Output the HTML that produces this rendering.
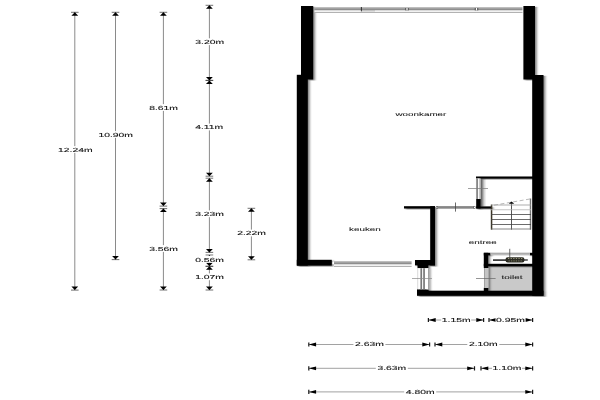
<!DOCTYPE html>
<html><head><meta charset="utf-8"><title>Plattegrond</title>
<style>
html,body{margin:0;padding:0;background:#fff;}
body{width:600px;height:400px;overflow:hidden;font-family:"Liberation Sans",sans-serif;}
svg{display:block;}
text{font-family:"Liberation Sans",sans-serif;text-rendering:geometricPrecision;}
</style></head><body>
<svg width="600" height="400" viewBox="0 0 600 400">
<rect width="600" height="400" fill="#fff"/>
<defs><linearGradient id="dg" x1="0" x2="1" y1="0" y2="0"><stop offset="0" stop-color="#000" stop-opacity="0.38"/><stop offset="1" stop-color="#000" stop-opacity="0"/></linearGradient><filter id="bl" x="0" y="0" width="600" height="400" filterUnits="userSpaceOnUse"><feGaussianBlur stdDeviation="0.6 0.12"/></filter><filter id="tb" x="0" y="0" width="600" height="400" filterUnits="userSpaceOnUse"><feGaussianBlur stdDeviation="0.3 0.08"/></filter><filter id="sh" x="280" y="0" width="290" height="310" filterUnits="userSpaceOnUse"><feDropShadow dx="1.8" dy="0.8" stdDeviation="1.1 0.6" flood-color="#000" flood-opacity="0.5"/></filter></defs>
<g filter="url(#bl)">
<g id="dims">
<line x1="74.8" y1="12.3" x2="74.8" y2="290.1" stroke="#8a8a8a" stroke-width="1"/>
<path d="M71.0,12.3H78.6M71.0,290.1H78.6" stroke="#333" stroke-width="0.7"/>
<path d="M74.8,12.3l3.4,3.5h-6.8z M74.8,290.1l3.4,-3.5h-6.8z" fill="#000"/>
<rect x="59.30" y="146.10" width="32" height="6.8" fill="#fff"/>
<line x1="115.5" y1="12.3" x2="115.5" y2="259.6" stroke="#8a8a8a" stroke-width="1"/>
<path d="M111.7,12.3H119.3M111.7,259.6H119.3" stroke="#333" stroke-width="0.7"/>
<path d="M115.5,12.3l3.4,3.5h-6.8z M115.5,259.6l3.4,-3.5h-6.8z" fill="#000"/>
<rect x="99.70" y="131.10" width="32" height="6.8" fill="#fff"/>
<line x1="163.4" y1="12.3" x2="163.4" y2="206.1" stroke="#8a8a8a" stroke-width="1"/>
<path d="M159.6,12.3H167.20000000000002M159.6,206.1H167.20000000000002" stroke="#333" stroke-width="0.7"/>
<path d="M163.4,12.3l3.4,3.5h-6.8z M163.4,206.1l3.4,-3.5h-6.8z" fill="#000"/>
<rect x="147.60" y="104.10" width="32" height="6.8" fill="#fff"/>
<line x1="163.4" y1="208.6" x2="163.4" y2="290.0" stroke="#8a8a8a" stroke-width="1"/>
<path d="M159.6,208.6H167.20000000000002M159.6,290.0H167.20000000000002" stroke="#333" stroke-width="0.7"/>
<path d="M163.4,208.6l3.4,3.5h-6.8z M163.4,290.0l3.4,-3.5h-6.8z" fill="#000"/>
<rect x="147.60" y="245.10" width="32" height="6.8" fill="#fff"/>
<line x1="209.4" y1="5.3" x2="209.4" y2="80.4" stroke="#8a8a8a" stroke-width="1"/>
<path d="M205.6,5.3H213.20000000000002M205.6,80.4H213.20000000000002" stroke="#333" stroke-width="0.7"/>
<path d="M209.4,5.3l3.4,3.5h-6.8z M209.4,80.4l3.4,-3.5h-6.8z" fill="#000"/>
<rect x="193.70" y="38.30" width="32" height="6.8" fill="#fff"/>
<line x1="209.4" y1="80.4" x2="209.4" y2="176.2" stroke="#8a8a8a" stroke-width="1"/>
<path d="M205.6,80.4H213.20000000000002M205.6,176.2H213.20000000000002" stroke="#333" stroke-width="0.7"/>
<path d="M209.4,80.4l3.4,3.5h-6.8z M209.4,176.2l3.4,-3.5h-6.8z" fill="#000"/>
<rect x="193.20" y="123.60" width="32" height="6.8" fill="#fff"/>
<line x1="209.4" y1="178.2" x2="209.4" y2="252.4" stroke="#8a8a8a" stroke-width="1"/>
<path d="M205.6,178.2H213.20000000000002M205.6,252.4H213.20000000000002" stroke="#333" stroke-width="0.7"/>
<path d="M209.4,178.2l3.4,3.5h-6.8z M209.4,252.4l3.4,-3.5h-6.8z" fill="#000"/>
<rect x="193.60" y="210.40" width="32" height="6.8" fill="#fff"/>
<line x1="209.4" y1="255.0" x2="209.4" y2="266.3" stroke="#8a8a8a" stroke-width="1"/>
<path d="M205.6,255.0H213.20000000000002M205.6,266.3H213.20000000000002" stroke="#333" stroke-width="0.7"/>
<path d="M209.4,255.0l3.4,3.5h-6.8z M209.4,266.3l3.4,-3.5h-6.8z" fill="#000"/>
<rect x="193.60" y="255.90" width="32" height="6.8" fill="#fff"/>
<line x1="209.4" y1="266.3" x2="209.4" y2="290.0" stroke="#8a8a8a" stroke-width="1"/>
<path d="M205.6,266.3H213.20000000000002M205.6,290.0H213.20000000000002" stroke="#333" stroke-width="0.7"/>
<path d="M209.4,266.3l3.4,3.5h-6.8z M209.4,290.0l3.4,-3.5h-6.8z" fill="#000"/>
<rect x="193.60" y="273.40" width="32" height="6.8" fill="#fff"/>
<line x1="251.4" y1="208.3" x2="251.4" y2="259.8" stroke="#8a8a8a" stroke-width="1"/>
<path d="M247.6,208.3H255.20000000000002M247.6,259.8H255.20000000000002" stroke="#333" stroke-width="0.7"/>
<path d="M251.4,208.3l3.4,3.5h-6.8z M251.4,259.8l3.4,-3.5h-6.8z" fill="#000"/>
<rect x="235.60" y="229.60" width="32" height="6.8" fill="#fff"/>
<line x1="428.4" y1="320.0" x2="483.6" y2="320.0" stroke="#a2a2a2" stroke-width="1"/>
<path d="M428.4,317.9V322.1M483.6,317.9V322.1" stroke="#1a1a1a" stroke-width="1.2"/>
<path d="M428.4,320.0l7.3,-1.9v3.8z M483.6,320.0l-7.3,-1.9v3.8z" fill="#000"/>
<rect x="441.20" y="316.80" width="30" height="6.4" fill="#fff"/>
<line x1="489.0" y1="320.0" x2="532.6" y2="320.0" stroke="#a2a2a2" stroke-width="1"/>
<path d="M489.0,317.9V322.1M532.6,317.9V322.1" stroke="#1a1a1a" stroke-width="1.2"/>
<path d="M489.0,320.0l7.3,-1.9v3.8z M532.6,320.0l-7.3,-1.9v3.8z" fill="#000"/>
<rect x="495.50" y="316.80" width="30" height="6.4" fill="#fff"/>
<line x1="308.8" y1="344.5" x2="429.6" y2="344.5" stroke="#a2a2a2" stroke-width="1"/>
<path d="M308.8,342.4V346.6M429.6,342.4V346.6" stroke="#1a1a1a" stroke-width="1.2"/>
<path d="M308.8,344.5l7.3,-1.9v3.8z M429.6,344.5l-7.3,-1.9v3.8z" fill="#000"/>
<rect x="353.40" y="341.30" width="32" height="6.4" fill="#fff"/>
<line x1="435.0" y1="344.5" x2="532.6" y2="344.5" stroke="#a2a2a2" stroke-width="1"/>
<path d="M435.0,342.4V346.6M532.6,342.4V346.6" stroke="#1a1a1a" stroke-width="1.2"/>
<path d="M435.0,344.5l7.3,-1.9v3.8z M532.6,344.5l-7.3,-1.9v3.8z" fill="#000"/>
<rect x="467.30" y="341.30" width="32" height="6.4" fill="#fff"/>
<line x1="308.8" y1="368.3" x2="474.5" y2="368.3" stroke="#a2a2a2" stroke-width="1"/>
<path d="M308.8,366.2V370.40000000000003M474.5,366.2V370.40000000000003" stroke="#1a1a1a" stroke-width="1.2"/>
<path d="M308.8,368.3l7.3,-1.9v3.8z M474.5,368.3l-7.3,-1.9v3.8z" fill="#000"/>
<rect x="375.80" y="365.10" width="32" height="6.4" fill="#fff"/>
<line x1="481.0" y1="368.3" x2="532.6" y2="368.3" stroke="#a2a2a2" stroke-width="1"/>
<path d="M481.0,366.2V370.40000000000003M532.6,366.2V370.40000000000003" stroke="#1a1a1a" stroke-width="1.2"/>
<path d="M481.0,368.3l7.3,-1.9v3.8z M532.6,368.3l-7.3,-1.9v3.8z" fill="#000"/>
<rect x="492.00" y="365.10" width="30" height="6.4" fill="#fff"/>
<line x1="308.8" y1="391.9" x2="532.6" y2="391.9" stroke="#a2a2a2" stroke-width="1"/>
<path d="M308.8,389.79999999999995V394.0M532.6,389.79999999999995V394.0" stroke="#1a1a1a" stroke-width="1.2"/>
<path d="M308.8,391.9l7.3,-1.9v3.8z M532.6,391.9l-7.3,-1.9v3.8z" fill="#000"/>
<rect x="404.20" y="388.70" width="32" height="6.4" fill="#fff"/>
</g>
<g id="plan">
<rect x="488.2" y="266.3" width="44.20" height="24.60" fill="#c9c9c9"/>
<g filter="url(#sh)">
<rect x="301" y="6" width="12.20" height="73.50" fill="#000"/>
<rect x="296.8" y="74.8" width="11.00" height="190.80" fill="#000"/>
<rect x="523.4" y="6" width="11.60" height="73.50" fill="#000"/>
<rect x="532.2" y="75" width="11.30" height="220.80" fill="#000"/>
<rect x="296.8" y="259.8" width="35.00" height="5.80" fill="#000"/>
<rect x="417" y="290.7" width="126.50" height="5.10" fill="#000"/>
<rect x="417" y="288.9" width="11.60" height="2.10" fill="#000"/>
<rect x="404" y="206.2" width="31.00" height="2.30" fill="#000"/>
<rect x="430.2" y="206.2" width="4.80" height="59.20" fill="#000"/>
<rect x="415" y="260" width="20.00" height="5.40" fill="#000"/>
<rect x="417.5" y="265" width="10.80" height="3.20" fill="#000"/>
<rect x="476" y="176.5" width="57.00" height="2.10" fill="#000"/>
<rect x="476.2" y="199" width="4.40" height="9.50" fill="#000"/>
<rect x="476.2" y="206.4" width="15.30" height="2.10" fill="#000"/>
<rect x="483.8" y="252.8" width="4.40" height="15.20" fill="#000"/>
<rect x="483.8" y="252.8" width="6.70" height="2.60" fill="#000"/>
<rect x="529.8" y="252.8" width="3.20" height="2.60" fill="#000"/>
<rect x="483.8" y="263.8" width="49.20" height="2.50" fill="#000"/>
<rect x="483.8" y="287.8" width="4.40" height="3.20" fill="#000"/>
<rect x="476.4" y="178.6" width="4.20" height="20.40" fill="#bdbdbd"/>
<rect x="484" y="268" width="4.20" height="20.00" fill="#c4c4c4"/>
<rect x="426.5" y="268.2" width="2.10" height="21.20" fill="#bbb"/>
</g>
<rect x="314.5" y="7" width="208.00" height="1.00" fill="#bdbdbd"/>
<rect x="314.5" y="8" width="208.00" height="1.00" fill="#a2a2a2"/>
<rect x="314.5" y="9" width="208.00" height="1.00" fill="#8e8e8e"/>
<rect x="314.5" y="10" width="208.00" height="1.00" fill="#dadada"/>
<rect x="314.5" y="11" width="208.00" height="1.00" fill="#f2f2f2"/>
<rect x="314.5" y="12" width="208.00" height="1.00" fill="#b2b2b2"/>
<rect x="360.9" y="7" width="0.90" height="4.40" fill="#222"/>
<rect x="362" y="10.7" width="13.00" height="0.50" fill="#8a8a8a"/>
<rect x="405.2" y="8" width="3.60" height="2.40" fill="#555"/>
<rect x="406.4" y="8" width="1.20" height="2.40" fill="#fff"/>
<rect x="474.7" y="8" width="3.60" height="2.40" fill="#555"/>
<rect x="475.9" y="8" width="1.20" height="2.40" fill="#fff"/>
<rect x="334" y="261" width="77.60" height="1.00" fill="#bdbdbd"/>
<rect x="334" y="262" width="77.60" height="1.00" fill="#a2a2a2"/>
<rect x="334" y="263" width="77.60" height="1.00" fill="#8e8e8e"/>
<rect x="334" y="264" width="77.60" height="1.00" fill="#dadada"/>
<rect x="334" y="265" width="77.60" height="1.00" fill="#f2f2f2"/>
<rect x="334" y="266" width="77.60" height="1.00" fill="#b2b2b2"/>
<rect x="332.4" y="261.4" width="1.60" height="2.80" fill="#fff"/>
<rect x="480.6" y="178.6" width="6" height="27.8" fill="url(#dg)"/>
<rect x="437" y="206.1" width="37.50" height="2.60" fill="#868686"/>
<rect x="436.0" y="206.2" width="1.80" height="2.40" fill="#444"/>
<rect x="436.4" y="206.7" width="1.00" height="1.40" fill="#fff"/>
<rect x="473.6" y="206.2" width="1.80" height="2.40" fill="#444"/>
<rect x="474.0" y="206.7" width="1.00" height="1.40" fill="#fff"/>
<rect x="455.1" y="202.5" width="0.80" height="9.10" fill="#444"/>
<rect x="476.4" y="178.6" width="4.20" height="20.40" fill="#bdbdbd"/>
<rect x="478.1" y="178.6" width="1.10" height="20.40" fill="#fff"/>
<rect x="476.4" y="178.6" width="1.50" height="20.40" fill="#808080"/>
<rect x="468" y="188.2" width="20.00" height="0.70" fill="#777"/>
<rect x="417.5" y="268.2" width="11.10" height="21.20" fill="#fff"/>
<rect x="417.3" y="268.2" width="0.90" height="21.20" fill="#d4d4d4"/>
<rect x="420.4" y="268.2" width="1.70" height="21.20" fill="#787878"/>
<rect x="423.2" y="268.2" width="1.70" height="21.20" fill="#787878"/>
<rect x="428.0" y="268.2" width="0.90" height="21.20" fill="#999"/>
<rect x="412" y="278.2" width="20.00" height="0.70" fill="#8a8a8a"/>
<rect x="484" y="268" width="4.20" height="20.00" fill="#c4c4c4"/>
<rect x="484" y="268" width="0.80" height="20.00" fill="#9a9a9a"/>
<rect x="476" y="278.2" width="19.60" height="0.70" fill="#666"/>
<rect x="490.5" y="252.8" width="39.30" height="2.60" fill="#bcbcbc"/>
<rect x="490.5" y="252.8" width="39.30" height="0.70" fill="#999"/>
<rect x="509.4" y="248.8" width="0.80" height="8.80" fill="#444"/>
<rect x="493" y="259.3" width="14.00" height="1.60" fill="#2a2a2a"/>
<rect x="505.5" y="257.2" width="19" height="5.2" rx="2.2" fill="#2b2b22"/>
<rect x="508.0" y="258.0" width="1.30" height="0.90" fill="#a5a58a"/>
<rect x="508.6" y="260.5" width="1.20" height="0.80" fill="#8a8a6c"/>
<rect x="510.6" y="258.0" width="1.30" height="0.90" fill="#a5a58a"/>
<rect x="511.0" y="260.5" width="1.20" height="0.80" fill="#8a8a6c"/>
<rect x="513.2" y="258.0" width="1.30" height="0.90" fill="#a5a58a"/>
<rect x="513.4" y="260.5" width="1.20" height="0.80" fill="#8a8a6c"/>
<rect x="515.8" y="258.0" width="1.30" height="0.90" fill="#a5a58a"/>
<rect x="515.8000000000001" y="260.5" width="1.20" height="0.80" fill="#8a8a6c"/>
<rect x="518.4" y="258.0" width="1.30" height="0.90" fill="#a5a58a"/>
<rect x="518.2" y="260.5" width="1.20" height="0.80" fill="#8a8a6c"/>
<rect x="521.0" y="258.0" width="1.30" height="0.90" fill="#a5a58a"/>
<rect x="520.6" y="260.5" width="1.20" height="0.80" fill="#8a8a6c"/>
<rect x="524" y="259.3" width="3.80" height="1.40" fill="#333"/>
<rect x="490.8" y="204.6" width="1.50" height="25.00" fill="#3a3426"/>
<rect x="529.8" y="198.5" width="1.40" height="31.10" fill="#777"/>
<rect x="511.0" y="203.5" width="0.90" height="26.10" fill="#444"/>
<rect x="491" y="204.6" width="40.00" height="0.80" fill="#9a9a9a"/>
<rect x="491" y="209.4" width="40.00" height="0.80" fill="#b5b5b5"/>
<rect x="491" y="214.1" width="40.00" height="0.80" fill="#444"/>
<rect x="491" y="219.1" width="40.00" height="0.80" fill="#444"/>
<rect x="491" y="224.1" width="40.00" height="0.80" fill="#444"/>
<rect x="491" y="228.6" width="40.00" height="0.80" fill="#666"/>
<path d="M494,205.2L531,198.8" stroke="#999" stroke-width="0.7" stroke-dasharray="4 2.5"/>
<path d="M508.8,203.7h5.4l-2.7,-2.3z" fill="#000"/>
</g>
</g>
<g id="labels" filter="url(#tb)">
<text transform="translate(75.30,151.70) scale(1.76,1)" font-size="5.9" text-anchor="middle" fill="#111" stroke="#111" stroke-width="0.1">12.24m</text>
<text transform="translate(115.70,136.70) scale(1.76,1)" font-size="5.9" text-anchor="middle" fill="#111" stroke="#111" stroke-width="0.1">10.90m</text>
<text transform="translate(163.60,109.70) scale(1.76,1)" font-size="5.9" text-anchor="middle" fill="#111" stroke="#111" stroke-width="0.1">8.61m</text>
<text transform="translate(163.60,250.70) scale(1.76,1)" font-size="5.9" text-anchor="middle" fill="#111" stroke="#111" stroke-width="0.1">3.56m</text>
<text transform="translate(209.70,43.90) scale(1.76,1)" font-size="5.9" text-anchor="middle" fill="#111" stroke="#111" stroke-width="0.1">3.20m</text>
<text transform="translate(209.20,129.20) scale(1.76,1)" font-size="5.9" text-anchor="middle" fill="#111" stroke="#111" stroke-width="0.1">4.11m</text>
<text transform="translate(209.60,216.00) scale(1.76,1)" font-size="5.9" text-anchor="middle" fill="#111" stroke="#111" stroke-width="0.1">3.23m</text>
<text transform="translate(209.60,261.50) scale(1.76,1)" font-size="5.9" text-anchor="middle" fill="#111" stroke="#111" stroke-width="0.1">0.56m</text>
<text transform="translate(209.60,279.00) scale(1.76,1)" font-size="5.9" text-anchor="middle" fill="#111" stroke="#111" stroke-width="0.1">1.07m</text>
<text transform="translate(251.60,235.20) scale(1.76,1)" font-size="5.9" text-anchor="middle" fill="#111" stroke="#111" stroke-width="0.1">2.22m</text>
<text transform="translate(456.20,321.80) scale(1.76,1)" font-size="5.9" text-anchor="middle" fill="#111" stroke="#111" stroke-width="0.1">1.15m</text>
<text transform="translate(510.50,321.80) scale(1.76,1)" font-size="5.9" text-anchor="middle" fill="#111" stroke="#111" stroke-width="0.1">0.95m</text>
<text transform="translate(369.40,346.30) scale(1.76,1)" font-size="5.9" text-anchor="middle" fill="#111" stroke="#111" stroke-width="0.1">2.63m</text>
<text transform="translate(483.30,346.30) scale(1.76,1)" font-size="5.9" text-anchor="middle" fill="#111" stroke="#111" stroke-width="0.1">2.10m</text>
<text transform="translate(391.80,370.10) scale(1.76,1)" font-size="5.9" text-anchor="middle" fill="#111" stroke="#111" stroke-width="0.1">3.63m</text>
<text transform="translate(507.00,370.10) scale(1.76,1)" font-size="5.9" text-anchor="middle" fill="#111" stroke="#111" stroke-width="0.1">1.10m</text>
<text transform="translate(420.20,393.70) scale(1.76,1)" font-size="5.9" text-anchor="middle" fill="#111" stroke="#111" stroke-width="0.1">4.80m</text>
<text transform="translate(420.90,116.40) scale(1.86,1)" font-size="5.3" text-anchor="middle" fill="#111" stroke="#111" stroke-width="0.05">woonkamer</text>
<text transform="translate(364.90,230.50) scale(1.86,1)" font-size="5.3" text-anchor="middle" fill="#111" stroke="#111" stroke-width="0.05">keuken</text>
<text transform="translate(482.80,243.70) scale(1.86,1)" font-size="5.3" text-anchor="middle" fill="#111" stroke="#111" stroke-width="0.05">entree</text>
<text transform="translate(512.00,279.40) scale(1.86,1)" font-size="5.3" text-anchor="middle" fill="#111" stroke="#111" stroke-width="0.05">toilet</text>
</g>
</svg>
</body></html>
